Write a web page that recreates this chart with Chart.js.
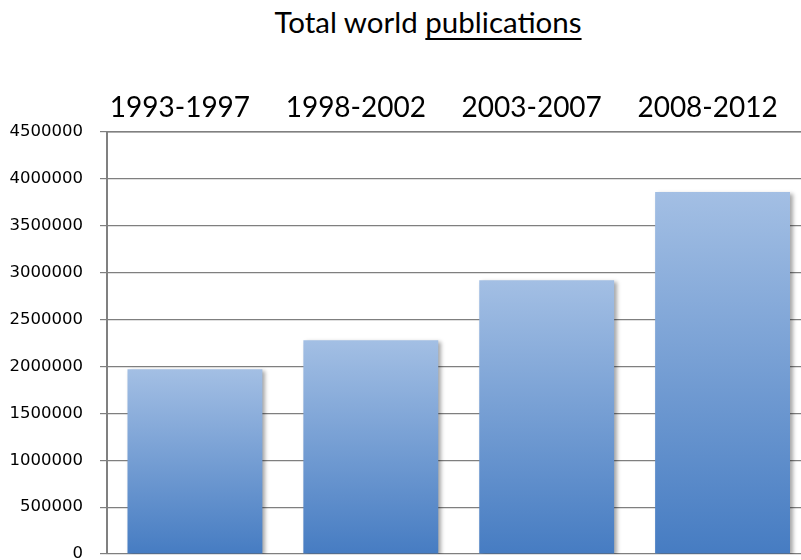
<!DOCTYPE html>
<html><head><meta charset="utf-8">
<script src="https://cdn.jsdelivr.net/npm/chart.js@4.4.0/dist/chart.umd.min.js"></script>
<style>
html,body{margin:0;padding:0;background:#fff;overflow:hidden}
#wrap{position:relative;width:801px;height:560px;overflow:hidden;background:#fff}
#title{position:absolute;left:428px;top:7px;transform:translateX(-50%);font-family:Lato,sans-serif;font-size:29.5px;line-height:30px;white-space:nowrap;color:#000}
#title u{text-decoration-thickness:2px;text-underline-offset:5px}
canvas{position:absolute;left:0;top:0}
</style></head><body>
<div id="wrap"><div id="title">Total world <u>publications</u></div><canvas id="c" width="812" height="600"></canvas></div>
<script>
const categories = ['1993-1997', '1998-2002', '2003-2007', '2008-2012'];
const publications = [1970000, 2280000, 2920000, 3860000];
const yTicks = [0, 500000, 1000000, 1500000, 2000000, 2500000, 3000000, 3500000, 4000000, 4500000];

function barGradient(c) {
  const chart = c.chart;
  const area = chart.chartArea;
  if (!area || c.type !== 'data') return '#7a9fd4';
  const ys = chart.scales.y;
  const top = ys.getPixelForValue(publications[c.dataIndex]);
  const bottom = ys.getPixelForValue(0);
  const g = chart.ctx.createLinearGradient(0, top, 0, bottom);
  g.addColorStop(0, '#a3bfe4');
  g.addColorStop(1, '#467cc2');
  return g;
}

const shadowPlugin = {
  id: 'barShadow',
  beforeDatasetDraw(chart) {
    const ctx = chart.ctx;
    ctx.save();
    ctx.shadowColor = 'rgba(0,0,0,0.35)';
    ctx.shadowBlur = 4;
    ctx.shadowOffsetX = 3;
    ctx.shadowOffsetY = 2;
  },
  afterDatasetDraw(chart) { chart.ctx.restore(); }
};

new Chart(document.getElementById('c'), {
  type: 'bar',
  data: {
    labels: categories,
    datasets: [{
      data: publications,
      backgroundColor: barGradient,
      borderWidth: 0,
      barPercentage: 0.767,
      categoryPercentage: 1
    }]
  },
  options: {
    responsive: false,
    animation: false,
    layout: { padding: { top: 0, right: 1.5, bottom: 46, left: 0 } },
    plugins: { legend: { display: false }, tooltip: { enabled: false }, title: { display: false } },
    scales: {
      x: {
        position: 'top',
        grid: { display: false, drawTicks: false },
        border: { display: true, color: '#808080', width: 1.5 },
        ticks: { font: { family: 'Lato', size: 28 }, color: '#000', padding: 7, labelOffset: -15, maxRotation: 0, autoSkip: false },
        afterFit(s) { s.height = 132; }
      },
      y: {
        min: 0, max: 4500000,
        afterBuildTicks(s) { s.ticks = yTicks.map(v => ({ value: v })); },
        grid: { color: '#7f7f7f', lineWidth: 1.2, tickLength: 7, drawTicks: true },
        border: { color: '#808080', width: 2 },
        ticks: { font: { family: 'DejaVu Sans', size: 16.5 }, color: '#000', padding: 17, callback: v => String(v) },
        afterFit(s) { s.width = 107; }
      }
    }
  },
  plugins: [shadowPlugin]
});
</script>
</body></html>
